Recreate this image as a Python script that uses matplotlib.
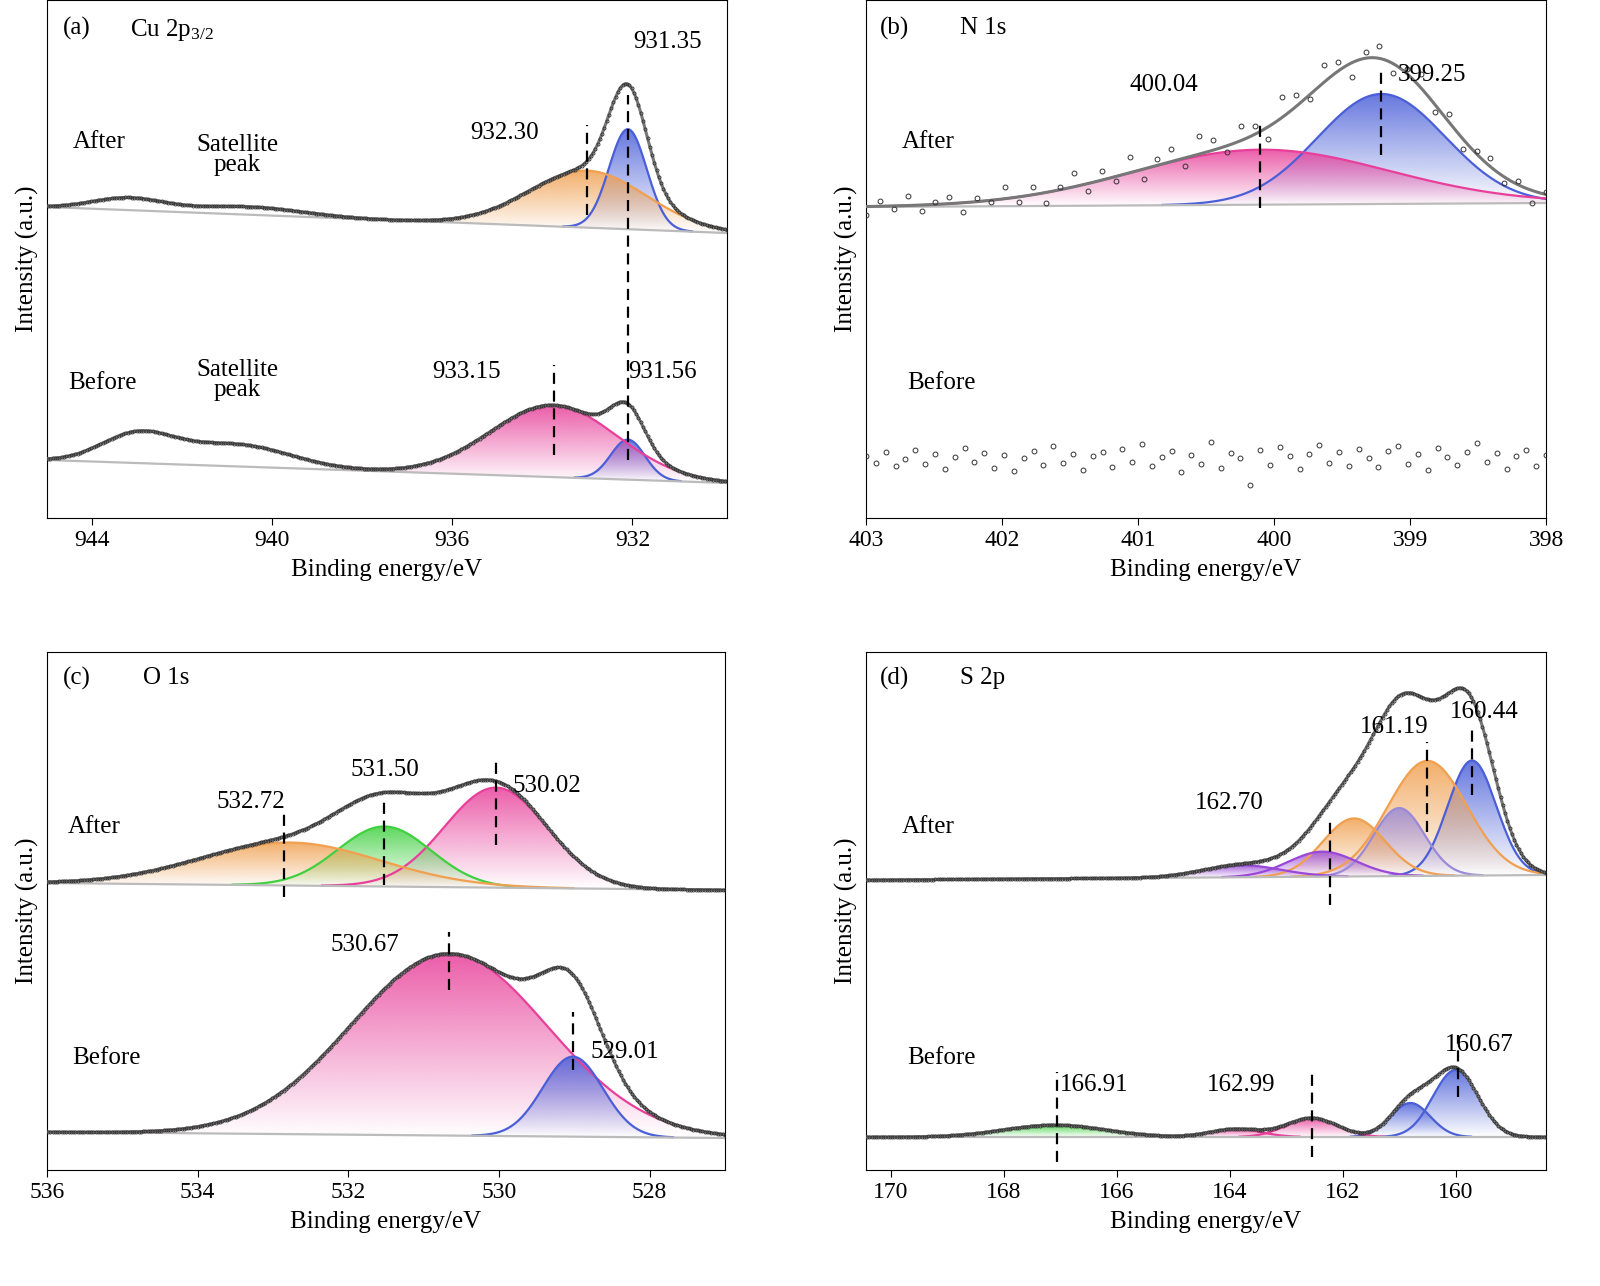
import numpy as np
import matplotlib.pyplot as plt
from matplotlib.patches import Polygon
from matplotlib.colors import to_rgb

plt.rcParams['font.family'] = ['Liberation Serif', 'DejaVu Serif']
plt.rcParams['mathtext.fontset'] = 'custom'
plt.rcParams['mathtext.rm'] = 'Liberation Serif'
plt.rcParams['mathtext.default'] = 'regular'
FS = 17

BLUE, ORANGE, MAGENTA = '#4a5fd8', '#f0a050', '#e8409a'
GREEN, PURPLE, LAVENDER = '#40d040', '#9a48d8', '#9a8ad8'

# ---- (a) Cu 2p3/2 : centres (eV), heights, sigmas ----
a_after_c = [932.10, 933.00, 943.2, 940.5]
a_after_h = [100, 57, 12, 8]
a_after_s = [0.42, 1.30, 0.8, 1.2]
a_after_col = [BLUE, ORANGE, None, None]
a_after_base = (311, 285)
a_before_c = [932.10, 933.75, 943.0, 940.8]
a_before_h = [40, 72, 28, 22]
a_before_s = [0.38, 1.40, 0.8, 1.2]
a_before_col = [BLUE, MAGENTA, None, None]
a_before_base = (58, 35)

# ---- (b) N 1s ----
b_after_c = [399.21, 400.10]
b_after_h = [110, 55]
b_after_s = [0.47, 0.94]
b_after_col = [BLUE, MAGENTA]
b_after_base = (311, 315)
b_after_noise = [-8, 5, -3, 10, -6, 2, 7, -9, 4, -2, 12, -5, 8, -11, 3, 14, -7, 9, -4, 16,
                 -10, 6, 13, -8, 18, 10, -6, 15, 8, -12, 20, 11, -5, 17, 9, -14, 6, 12, -9, 5,
                 14, -7, 8, -10, 3, 9, -6, 4, -12, 2]
b_before_level = 58
b_before_noise = [4, -3, 8, -6, 1, 10, -4, 6, -9, 3, 12, -2, 7, -8, 5, -11, 2, 9, -5, 14,
                  -3, 6, -10, 4, 8, -7, 11, -2, 16, -6, 3, 9, -12, 5, -4, 18, -8, 7, 2, -25,
                  10, -5, 13, 4, -9, 6, 15, -3, 8, -6, 11, 2, -7, 9, 14, -4, 6, -10, 12, 3,
                  -5, 8, 17, -2, 7, -9, 4, 10, -6, 5]

# ---- (c) O 1s ----
c_after_c = [530.04, 531.52, 532.78]
c_after_h = [100, 60, 43]
c_after_s = [0.68, 0.62, 1.20]
c_after_col = [MAGENTA, GREEN, ORANGE]
c_after_base = (287, 280)
c_before_c = [530.66, 529.02]
c_before_h = [182, 80]
c_before_s = [1.30, 0.40]
c_before_col = [MAGENTA, BLUE]
c_before_base = (38, 32)

# ---- (d) S 2p ----
d_after_c = [159.71, 160.50, 161.00, 161.80, 162.36, 163.80]
d_after_h = [115, 115, 68, 58, 25, 12]
d_after_s = [0.43, 0.70, 0.45, 0.55, 0.60, 0.70]
d_after_col = [BLUE, ORANGE, LAVENDER, ORANGE, PURPLE, PURPLE]
d_after_base = (290, 295)
d_before_c = [160.00, 160.80, 162.55, 163.90, 167.10]
d_before_h = [67, 34, 19, 8, 12]
d_before_s = [0.40, 0.35, 0.45, 0.45, 0.90]
d_before_col = [BLUE, BLUE, MAGENTA, MAGENTA, GREEN]
d_before_base = (33, 33)

# panel layout in reference pixels: left, top, right, bottom
W, H = 1600, 1286
boxes = {'a': (47, 0, 727, 518), 'b': (866, 0, 1546, 518),
         'c': (47, 652, 725, 1170), 'd': (866, 652, 1546, 1170)}
xlims = {'a': (945, 929.9), 'b': (403, 398), 'c': (536, 527.0), 'd': (170.44, 158.4)}
xticks = {'a': [944, 940, 936, 932], 'b': [403, 402, 401, 400, 399, 398],
          'c': [536, 534, 532, 530, 528], 'd': [170, 168, 166, 164, 162, 160]}

fig = plt.figure(figsize=(16, 12.86), dpi=100)
axes = {}
for k, (l, t, r, b) in boxes.items():
    axes[k] = fig.add_axes([l / W, 1 - b / H, (r - l) / W, (b - t) / H])


def gauss(x, c, h, s):
    return h * np.exp(-0.5 * ((x - c) / s) ** 2)


def gfill(ax, x, base, y, color):
    verts = np.column_stack([np.r_[x, x[::-1]], np.r_[y, base[::-1]]])
    poly = Polygon(verts, closed=True, fc='none', ec='none')
    ax.add_patch(poly)
    n = 256
    grad = np.ones((n, 1, 4))
    grad[:, 0, :3] = to_rgb(color)
    grad[:, 0, 3] = np.linspace(0.85, 0.0, n)
    im = ax.imshow(grad, extent=[x.min(), x.max(), base.min(), y.max()],
                   aspect='auto', origin='upper', zorder=1)
    im.set_clip_path(poly)


def spectrum(ax, lim, cs, hs, ss, cols, base, dots=True):
    x = np.linspace(lim[1], lim[0], 600)
    bl = np.interp(x, [lim[1], lim[0]], [base[1], base[0]])
    env = bl.copy()
    for c, h, s, col in zip(cs, hs, ss, cols):
        g = gauss(x, c, h, s)
        env += g
        if col is None:
            continue
        m = g > 0.3
        gfill(ax, x[m], bl[m], bl[m] + g[m], col)
        ax.plot(x[m], bl[m] + g[m], color=col, lw=1.6, zorder=2)
    ax.plot(x, bl, color='#bbbbbb', lw=1.6, zorder=2)
    ax.plot(x, env, color='#777777', lw=2.2, zorder=3)
    if dots:
        ax.plot(x[::2], env[::2], 'o', ms=2.2, mfc='none', mec='#333333', mew=0.6, zorder=4)
    return x, env


for k, ax in axes.items():
    ax.set_xlim(*xlims[k])
    ax.set_ylim(0, 518)

spectrum(axes['a'], xlims['a'], a_after_c, a_after_h, a_after_s, a_after_col, a_after_base)
spectrum(axes['a'], xlims['a'], a_before_c, a_before_h, a_before_s, a_before_col, a_before_base)
xb, envb = spectrum(axes['b'], xlims['b'], b_after_c, b_after_h, b_after_s, b_after_col,
                    b_after_base, dots=False)
spectrum(axes['c'], xlims['c'], c_after_c, c_after_h, c_after_s, c_after_col, c_after_base)
spectrum(axes['c'], xlims['c'], c_before_c, c_before_h, c_before_s, c_before_col, c_before_base)
spectrum(axes['d'], xlims['d'], d_after_c, d_after_h, d_after_s, d_after_col, d_after_base)
spectrum(axes['d'], xlims['d'], d_before_c, d_before_h, d_before_s, d_before_col, d_before_base)

# N 1s scattered data points
xn = np.linspace(403, 398, len(b_after_noise))
axes['b'].plot(xn, np.interp(xn, xb, envb) + np.array(b_after_noise), 'o', ms=3.5,
               mfc='none', mec='#333333', mew=0.7, zorder=4)
xn2 = np.linspace(403, 398, len(b_before_noise))
axes['b'].plot(xn2, b_before_level + np.array(b_before_noise), 'o', ms=3.5,
               mfc='none', mec='#333333', mew=0.7, zorder=4)

# dashed marker lines: energy, y0, y1 (axes height units)
dashes = {
    'a': [(932.10, 58, 423), (933.00, 303, 393), (933.75, 63, 153)],
    'b': [(400.10, 310, 396), (399.21, 363, 450)],
    'c': [(532.85, 273, 358), (531.52, 285, 373), (530.04, 325, 408),
          (530.66, 180, 238), (529.02, 100, 158)],
    'd': [(162.22, 265, 350), (160.51, 338, 428), (159.71, 375, 443),
          (167.05, 8, 98), (162.55, 13, 100), (159.96, 73, 135)],
}
for k, lst in dashes.items():
    for e, y0, y1 in lst:
        axes[k].vlines(e, y0, y1, colors='k', linestyles=(0, (5, 3)), lw=1.6, zorder=5)

# texts in reference pixel coords
texts = {
    'a': [('(a)', 63, 28, 'left'), ('Cu 2p$_{3/2}$', 130, 30, 'left'),
          ('After', 73, 142, 'left'), ('Satellite\npeak', 237, 155, 'center'),
          ('932.30', 470, 133, 'left'), ('931.35', 633, 42, 'left'),
          ('Before', 68, 383, 'left'), ('Satellite\npeak', 237, 380, 'center'),
          ('933.15', 432, 372, 'left'), ('931.56', 628, 372, 'left')],
    'b': [('(b)', 880, 28, 'left'), ('N 1s', 960, 28, 'left'), ('After', 902, 142, 'left'),
          ('400.04', 1130, 85, 'left'), ('399.25', 1398, 75, 'left'),
          ('Before', 907, 383, 'left')],
    'c': [('(c)', 63, 678, 'left'), ('O 1s', 143, 678, 'left'), ('After', 68, 827, 'left'),
          ('532.72', 217, 802, 'left'), ('531.50', 350, 770, 'left'),
          ('530.02', 512, 786, 'left'), ('Before', 72, 1058, 'left'),
          ('530.67', 330, 945, 'left'), ('529.01', 590, 1052, 'left')],
    'd': [('(d)', 880, 678, 'left'), ('S 2p', 960, 678, 'left'), ('After', 902, 827, 'left'),
          ('162.70', 1195, 803, 'left'), ('161.19', 1360, 727, 'left'),
          ('160.44', 1450, 712, 'left'), ('Before', 907, 1058, 'left'),
          ('166.91', 1060, 1085, 'left'), ('162.99', 1207, 1085, 'left'),
          ('160.67', 1445, 1045, 'left')],
}
for k, lst in texts.items():
    l, t, r, b = boxes[k]
    for s, px, py, ha in lst:
        axes[k].text((px - l) / (r - l), 1 - (py - t) / (b - t), s, transform=axes[k].transAxes,
                     ha=ha, va='center', fontsize=FS + 1, linespacing=0.9, zorder=6)

for k, ax in axes.items():
    ax.set_xlim(*xlims[k])
    ax.set_ylim(0, 518)
    ax.set_xticks(xticks[k])
    ax.set_yticks([])
    ax.tick_params(axis='x', labelsize=FS, direction='out', length=5)
    ax.set_xlabel('Binding energy/eV', fontsize=FS + 1, labelpad=6)
    ax.set_ylabel('Intensity (a.u.)', fontsize=FS + 1, labelpad=6)

fig.savefig('out.png', dpi=100)
